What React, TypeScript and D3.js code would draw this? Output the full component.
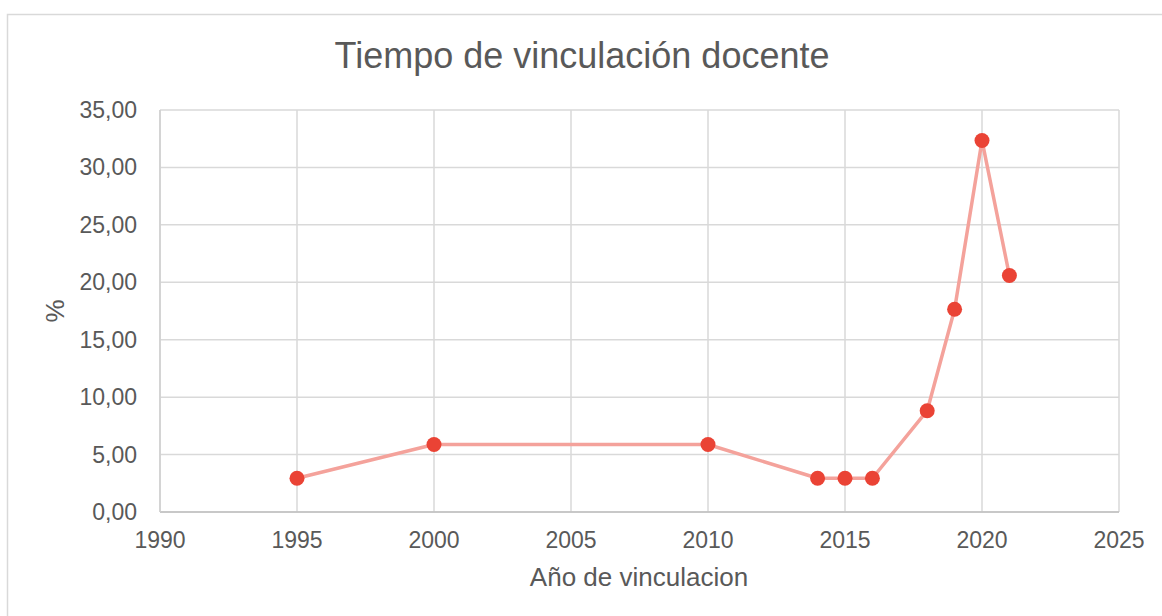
import React from "react";
import * as d3 from "d3";

const years = [1995, 2000, 2010, 2014, 2015, 2016, 2018, 2019, 2020, 2021];
const percents = [2.94, 5.88, 5.88, 2.94, 2.94, 2.94, 8.82, 17.65, 32.35, 20.59];
const xTicks = [1990, 1995, 2000, 2005, 2010, 2015, 2020, 2025];
const yTicks = [0, 5, 10, 15, 20, 25, 30, 35];
const title = "Tiempo de vinculación docente";
const xTitle = "Año de vinculacion";
const yTitle = "%";

const W = 1162;
const H = 616;
const plot = { left: 160, right: 1119, top: 110, bottom: 512 };
const textColor = "#595959";
const gridColor = "#d9d9d9";
const font = "'Liberation Sans', Arial, sans-serif";

export default function App() {
  const x = d3.scaleLinear().domain([1990, 2025]).range([plot.left, plot.right]);
  const y = d3.scaleLinear().domain([0, 35]).range([plot.bottom, plot.top]);
  const pts = years.map((yr, i) => [x(yr), y(percents[i])] as [number, number]);
  const line = d3.line()(pts) || "";
  const fmt = (v: number) => v.toFixed(2).replace(".", ",");

  return (
    <div style={{ position: "fixed", left: 0, top: 0 }}>
      <svg width={W} height={H} style={{ display: "block", fontFamily: font }}>
        <rect x={0} y={0} width={W} height={H} fill="#ffffff" />
        <rect x={7.5} y={14.5} width={1160} height={640} fill="#ffffff" stroke={gridColor} strokeWidth={1.5} />
        <text x={582} y={68} fontSize={36} fill={textColor} textAnchor="middle">{title}</text>
        {yTicks.map((t) => (
          <line key={"gy" + t} x1={plot.left} x2={plot.right} y1={y(t)} y2={y(t)} stroke={gridColor} strokeWidth={1.5} />
        ))}
        {xTicks.map((t) => (
          <line key={"gx" + t} x1={x(t)} x2={x(t)} y1={plot.top} y2={plot.bottom} stroke={gridColor} strokeWidth={1.5} />
        ))}
        <line x1={plot.left} x2={plot.right} y1={plot.bottom} y2={plot.bottom} stroke="#bfbfbf" strokeWidth={1.5} />
        <line x1={plot.left} x2={plot.left} y1={plot.top} y2={plot.bottom} stroke="#cfcfcf" strokeWidth={1.5} />
        {yTicks.map((t) => (
          <text key={"ty" + t} x={137} y={y(t) + 8} fontSize={23} fill={textColor} textAnchor="end">{fmt(t)}</text>
        ))}
        {xTicks.map((t) => (
          <text key={"tx" + t} x={x(t)} y={548} fontSize={23} fill={textColor} textAnchor="middle">{t}</text>
        ))}
        <text x={639} y={586} fontSize={26} fill={textColor} textAnchor="middle">{xTitle}</text>
        <text transform={`translate(64,${(plot.top + plot.bottom) / 2}) rotate(-90)`} fontSize={26} fill={textColor} textAnchor="middle">{yTitle}</text>
        <path d={line} fill="none" stroke="#f4a29b" strokeWidth={3.5} strokeLinejoin="round" />
        {pts.map((p, i) => (
          <circle key={i} cx={p[0]} cy={p[1]} r={7.5} fill="#ea4335" />
        ))}
      </svg>
    </div>
  );
}
